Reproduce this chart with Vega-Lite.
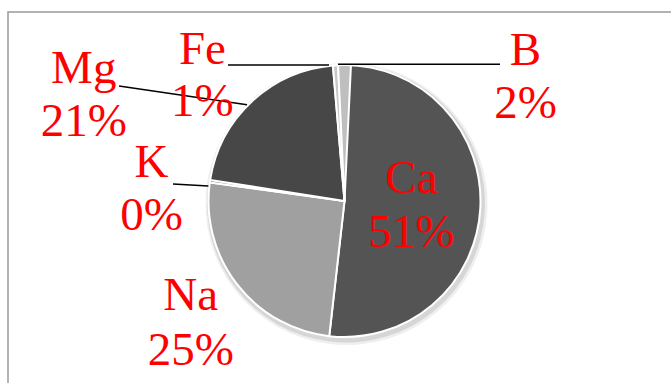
{
  "$schema": "https://vega.github.io/schema/vega-lite/v6.json",
  "width": 666,
  "height": 374,
  "autosize": {"type": "none"},
  "padding": {"left": 8, "top": 12, "right": -3, "bottom": -3},
  "background": "white",
  "config": {"view": {"stroke": "#9a9a9a", "strokeWidth": 1.5}},
  "data": {"values": [
    {"element": "Ca", "value": 51.4, "ord": 1},
    {"element": "Na", "value": 25.2, "ord": 2},
    {"element": "K", "value": 0.3, "ord": 3},
    {"element": "Mg", "value": 21.0, "ord": 4},
    {"element": "Fe", "value": 0.6, "ord": 5},
    {"element": "B", "value": 1.5, "ord": 6}
  ]},
  "transform": [
    {"joinaggregate": [{"op": "sum", "field": "value", "as": "total"}]},
    {"stack": "value", "sort": [{"field": "ord", "order": "ascending"}], "as": ["v0", "v1"]},
    {"calculate": "(datum.v0 + datum.v1) / 2", "as": "mid"},
    {"calculate": "datum.element + '|' + round(100 * datum.value / datum.total) + '%'", "as": "label"}
  ],
  "layer": [
    {
      "mark": {"type": "arc", "outerRadius": 141, "fill": "#efefef", "xOffset": 5.5, "yOffset": 5},
      "encoding": {
        "theta": {"field": "v0", "type": "quantitative", "scale": {"zero": true, "nice": false}},
        "theta2": {"field": "v1"}
      }
    },
    {
      "mark": {"type": "arc", "outerRadius": 139, "fill": "#d6d6d6", "xOffset": 5, "yOffset": 4.5},
      "encoding": {
        "theta": {"field": "v0", "type": "quantitative"},
        "theta2": {"field": "v1"}
      }
    },
    {
      "mark": {"type": "arc", "outerRadius": 136, "stroke": "white", "strokeWidth": 2, "xOffset": 3.5, "yOffset": 2},
      "encoding": {
        "theta": {"field": "v0", "type": "quantitative"},
        "theta2": {"field": "v1"},
        "color": {
          "field": "element",
          "type": "nominal",
          "scale": {"domain": ["Ca", "Na", "K", "Mg", "Fe", "B"], "range": ["#545454", "#a0a0a0", "#7f7f7f", "#474747", "#c8c8c8", "#bfbfbf"]},
          "legend": null
        }
      }
    },
    {
      "transform": [
        {"filter": "indexof(['K','Mg','Fe','B'], datum.element) >= 0"},
        {"calculate": "2 * PI * datum.mid / datum.total", "as": "a"},
        {"calculate": "336.5 + 137 * sin(datum.a)", "as": "ex"},
        {"calculate": "189 - 137 * cos(datum.a)", "as": "ey"},
        {"calculate": "datum.element == 'Mg' ? 111 : datum.element == 'K' ? 165 : datum.element == 'Fe' ? 220 : 492", "as": "lx"},
        {"calculate": "datum.element == 'Mg' ? 74 : datum.element == 'K' ? 172 : datum.ey", "as": "ly"}
      ],
      "mark": {"type": "rule", "color": "black", "strokeWidth": 1.5},
      "encoding": {
        "x": {"field": "ex", "type": "quantitative", "scale": null},
        "y": {"field": "ey", "type": "quantitative", "scale": null},
        "x2": {"field": "lx"},
        "y2": {"field": "ly"}
      }
    },
    {
      "transform": [{"filter": "datum.element == 'Ca'"}],
      "mark": {"type": "text", "radius": 67, "dx": 0, "dy": -12, "xOffset": 3.5, "yOffset": 2, "font": "Liberation Serif", "fontSize": 47, "fill": "#ff0000", "align": "center", "baseline": "alphabetic", "lineBreak": "|", "lineHeight": 54},
      "encoding": {"theta": {"field": "mid", "type": "quantitative"}, "text": {"field": "label"}}
    },
    {
      "transform": [{"filter": "datum.element == 'Na'"}],
      "mark": {"type": "text", "radius": 196, "dx": 1, "dy": -11, "xOffset": 3.5, "yOffset": 2, "font": "Liberation Serif", "fontSize": 47, "fill": "#ff0000", "align": "center", "baseline": "alphabetic", "lineBreak": "|", "lineHeight": 55},
      "encoding": {"theta": {"field": "mid", "type": "quantitative"}, "text": {"field": "label"}}
    },
    {
      "transform": [{"filter": "datum.element == 'K'"}],
      "mark": {"type": "text", "radius": 194, "dx": -1, "dy": 4, "xOffset": 3.5, "yOffset": 2, "font": "Liberation Serif", "fontSize": 47, "fill": "#ff0000", "align": "center", "baseline": "alphabetic", "lineBreak": "|", "lineHeight": 53},
      "encoding": {"theta": {"field": "mid", "type": "quantitative"}, "text": {"field": "label"}}
    },
    {
      "transform": [{"filter": "datum.element == 'Mg'"}],
      "mark": {"type": "text", "radius": 161, "dx": -151, "dy": 0, "xOffset": 3.5, "yOffset": 2, "font": "Liberation Serif", "fontSize": 47, "fill": "#ff0000", "align": "center", "baseline": "alphabetic", "lineBreak": "|", "lineHeight": 53},
      "encoding": {"theta": {"field": "mid", "type": "quantitative"}, "text": {"field": "label"}}
    },
    {
      "transform": [{"filter": "datum.element == 'Fe'"}],
      "mark": {"type": "text", "radius": 137, "dx": -133, "dy": 0, "xOffset": 3.5, "yOffset": 2, "font": "Liberation Serif", "fontSize": 47, "fill": "#ff0000", "align": "center", "baseline": "alphabetic", "lineBreak": "|", "lineHeight": 52},
      "encoding": {"theta": {"field": "mid", "type": "quantitative"}, "text": {"field": "label"}}
    },
    {
      "transform": [{"filter": "datum.element == 'B'"}],
      "mark": {"type": "text", "radius": 137, "dx": 181, "dy": 1, "xOffset": 3.5, "yOffset": 2, "font": "Liberation Serif", "fontSize": 47, "fill": "#ff0000", "align": "center", "baseline": "alphabetic", "lineBreak": "|", "lineHeight": 53},
      "encoding": {"theta": {"field": "mid", "type": "quantitative"}, "text": {"field": "label"}}
    }
  ]
}
